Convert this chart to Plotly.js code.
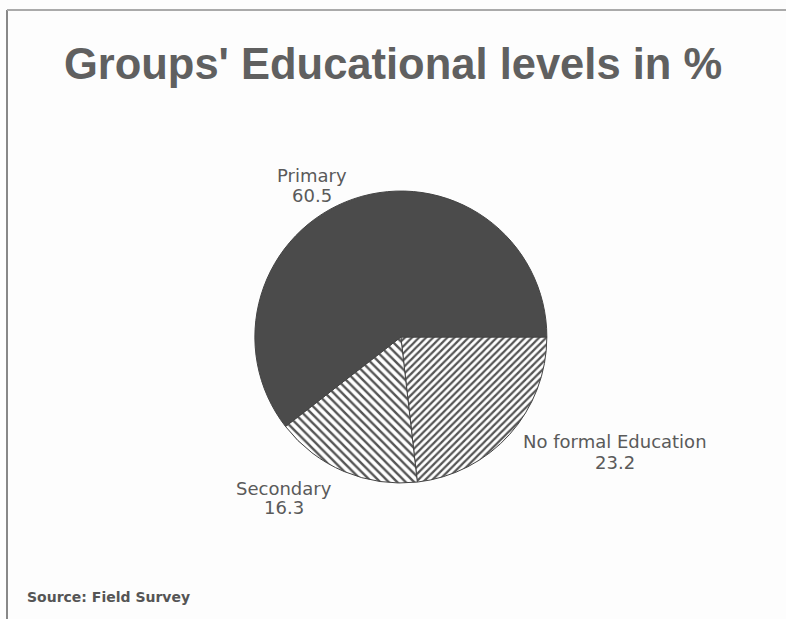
<!DOCTYPE html>
<html><head><meta charset="utf-8">
<script src="https://cdn.plot.ly/plotly-3.0.1.min.js"></script>
<style>html,body{margin:0;padding:0;background:#fdfdfd}#c{width:786px;height:619px}</style>
</head><body><div id="c"></div>
<script>
var categories = ["No formal Education", "Secondary", "Primary"];
var values = [23.2, 16.3, 60.5];
// label anchor positions in pixels [x, nameY, valueY]
var labelPos = [[615, 441, 462], [284, 488, 507], [312, 175, 195]];

var W = 786, H = 619;
var lblFont = {family: "DejaVu Sans, Verdana, sans-serif", size: 18, color: "#5a5a5a"};
var annotations = [];
categories.forEach(function(c, i){
  var p = labelPos[i];
  annotations.push({text: c, x: p[0]/W, y: 1-p[1]/H, xref: "paper", yref: "paper", showarrow: false,
    xanchor: "center", yanchor: "middle", font: lblFont});
  annotations.push({text: values[i].toFixed(1), x: p[0]/W, y: 1-p[2]/H, xref: "paper", yref: "paper", showarrow: false,
    xanchor: "center", yanchor: "middle", font: lblFont});
});
annotations.push({text: "<b>Source: Field Survey</b>", x: 25/W, y: 1-597/H, xref: "paper", yref: "paper",
  showarrow: false, xanchor: "left", yanchor: "middle",
  font: {family: "DejaVu Sans, Verdana, sans-serif", size: 14, color: "#555"}});

var trace = {
  type: "pie", labels: categories, values: values, sort: false, direction: "clockwise", rotation: 90,
  textinfo: "none", hoverinfo: "label+value", showlegend: false,
  domain: {x: [0.31, 0.71], y: [0.2197, 0.6914]},
  marker: {
    colors: ["#ffffff", "#ffffff", "#4b4b4b"],
    line: {color: "#444", width: 1},
    pattern: {shape: ["/", "\\", ""], fgcolor: ["#555", "#555", "#4b4b4b"], bgcolor: ["#ffffff", "#ffffff", "#4b4b4b"],
      size: [5, 6, 8], solidity: [0.45, 0.4, 0.3], fillmode: "replace"}
  }
};

var layout = {
  width: W, height: H, margin: {l: 0, r: 0, t: 0, b: 0},
  paper_bgcolor: "#fdfdfd", plot_bgcolor: "#fdfdfd",
  title: {text: "<b>Groups' Educational levels in %</b>", x: 0.5, xanchor: "center", y: 1-64/H, yanchor: "middle",
    font: {family: "Liberation Sans, Arial, sans-serif", size: 43.5, color: "#606060"}},
  annotations: annotations,
  shapes: [
    {type: "line", xref: "paper", yref: "paper", x0: 7/W, x1: 7/W, y0: 0, y1: 1-10/H, line: {color: "#888", width: 2}},
    {type: "line", xref: "paper", yref: "paper", x0: 7/W, x1: 1, y0: 1-10/H, y1: 1-10/H, line: {color: "#aaa", width: 2}}
  ]
};
Plotly.newPlot("c", [trace], layout, {displayModeBar: false, staticPlot: true});
</script></body></html>
